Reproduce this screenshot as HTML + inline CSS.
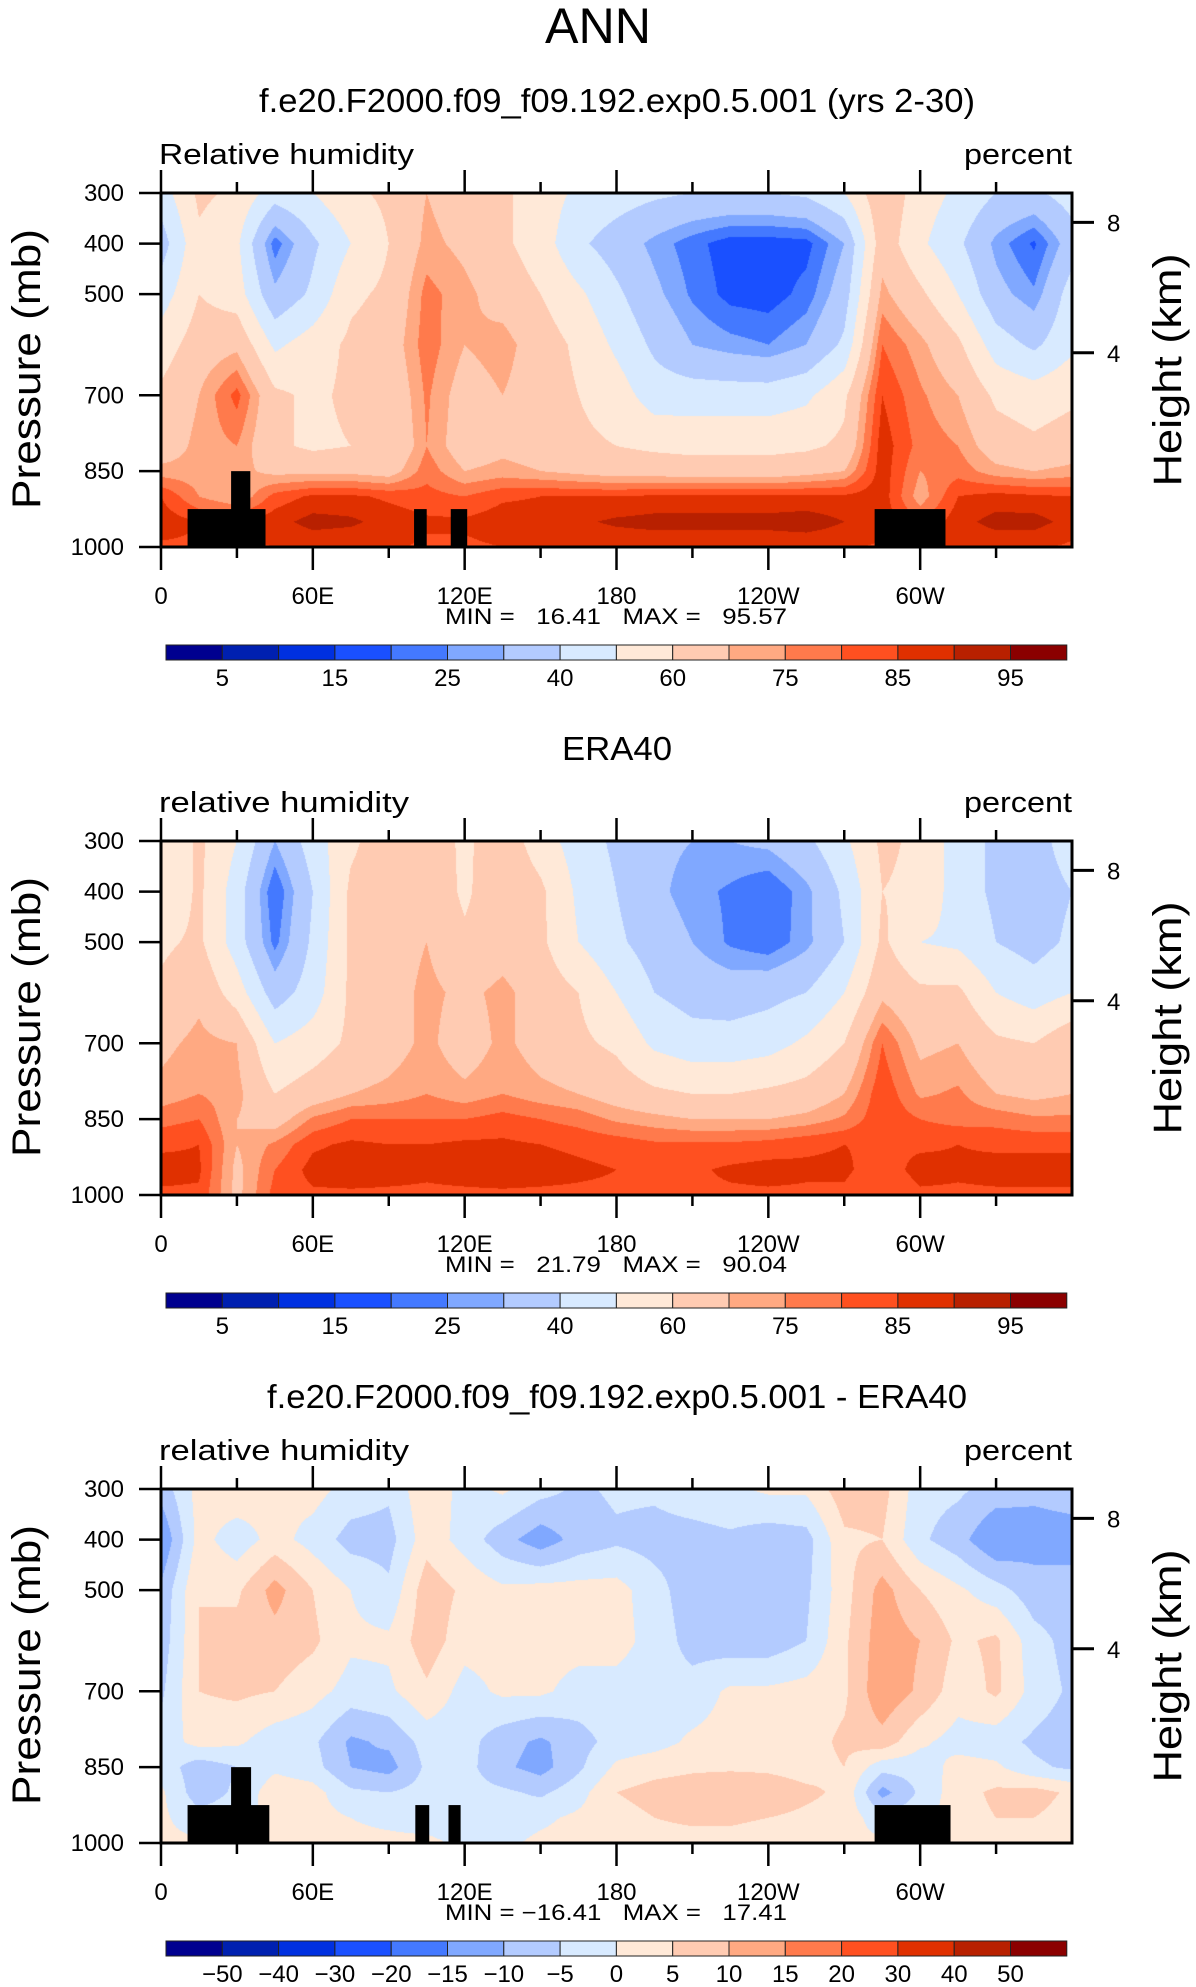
<!DOCTYPE html>
<html><head><meta charset="utf-8">
<style>
html,body{margin:0;padding:0;background:#fff;}
#wrap{position:relative;width:1196px;height:1987px;overflow:hidden;}
canvas{position:absolute;}
svg{position:absolute;left:0;top:0;}
text{font-family:"Liberation Sans",sans-serif;fill:#000;}
</style></head>
<body>
<div id="wrap">
<canvas id="c0"></canvas>
<canvas id="c1"></canvas>
<canvas id="c2"></canvas>
<svg id="ov" width="1196" height="1987"></svg>
</div>
<script>
// ---- data ----
const lons = [0,15,30,45,60,75,90,105,120,135,150,165,180,195,210,225,240,255,270,285,300,315,330,345,360];
const plevs = [300,400,500,600,700,800,850,900,950,1000];
const modelRH = [
[45,62,58,45,50,58,62,70,65,62,55,48,45,42,40,40,40,42,50,68,55,48,40,38,45],
[35,58,52,22,38,50,60,72,68,62,55,42,35,28,22,17,17,18,30,66,52,42,28,19,35],
[45,60,55,32,42,58,62,77,72,66,60,52,42,32,24,18,17,22,35,72,62,50,33,26,45],
[55,65,68,48,55,62,65,78,70,73,65,58,48,38,30,27,25,30,42,80,72,62,45,38,48],
[62,70,82,62,58,62,62,76,66,70,65,60,55,45,45,45,45,48,58,85,76,70,58,55,58],
[65,72,75,62,58,60,60,75,65,68,66,62,60,58,57,57,57,58,62,88,78,75,65,62,65],
[72,72,72,68,68,68,66,78,70,72,70,68,66,66,65,65,65,67,70,88,75,78,72,70,72],
[85,75,70,82,86,86,84,82,80,84,85,85,85,86,86,86,86,86,86,88,72,85,87,86,85],
[88,85,85,88,92,91,88,86,86,88,88,89,91,92,92,92,92,93,90,88,80,88,92,92,88],
[84,84,84,85,86,86,86,84,84,85,85,86,86,86,86,86,86,86,86,84,84,86,86,86,84]];
const eraRH = [
[50,62,50,30,45,58,66,66,58,66,55,45,38,32,30,30,32,38,48,62,58,45,38,36,45],
[50,62,45,20,40,62,66,68,58,68,62,48,40,32,27,24,20,28,42,60,58,45,38,35,40],
[58,62,45,23,42,62,66,70,62,66,62,50,42,35,30,24,21,28,40,62,50,48,40,36,42],
[62,68,55,35,45,62,66,72,68,72,66,60,50,40,36,35,37,40,50,68,62,62,50,45,50],
[68,72,70,50,55,62,66,72,65,72,66,62,58,48,44,44,46,52,60,80,68,70,62,60,68],
[72,75,72,60,65,70,72,75,72,75,72,70,66,62,60,60,62,64,70,84,74,76,70,68,70],
[78,80,70,66,76,80,80,80,80,82,80,78,74,72,70,70,70,72,76,84,80,78,78,76,76],
[84,85,70,76,84,86,85,85,86,86,85,84,83,81,81,81,82,84,85,84,84,85,84,84,84],
[87,86,68,80,87,88,87,86,87,88,87,86,85,84,84,86,87,86,86,82,87,86,87,87,87],
[84,84,68,82,84,84,84,84,84,84,84,84,84,84,84,84,84,84,84,80,84,84,84,84,84]];
const diffRH = [
[-8,2,4,1,2,-2,-4,4,-2,1,-3,-6,-4,-4,-2,-1,1,1,8,7,-3,-4,-7,-9,-8],
[-15,2,-3,2,-2,-7,-7,3,-2,-8,-13,-8,-6,-7,-7,-6,-8,-7,4,5,-4,-8,-15,-12,-12],
[-9,5,4,12,5,0,-4,8,4,1,2,2,2,-3,-8,-8,-8,-6,3,12,5,1,-3,-8,-8],
[-8,5,7,8,6,1,1,8,2,2,2,2,2,-2,-7,-8,-8,-5,4,13,10,4,6,-3,-7],
[-6,5,6,5,2,-2,-1,4,-2,1,1,-2,-2,-3,-3,1,1,2,4,14,9,2,6,-2,-6],
[-3,2,1,-3,-4,-11,-9,-3,-3,-8,-11,-7,-3,-2,1,2,2,3,6,8,1,-2,-3,-6,-8],
[-2,-8,-5,-1,-3,-10,-12,-4,-3,-9,-12,-6,1,3,4,4,4,3,5,-3,-3,2,1,-4,-6],
[1,-8,-4,3,2,-4,-5,-3,-3,-4,-6,-2,5,7,8,10,8,6,4,-12,-4,3,6,7,4],
[1,-3,-2,2,2,0,-1,-2,-2,-2,-1,1,3,5,6,6,5,4,3,-3,-2,3,5,5,3],
[1,1,2,2,2,1,1,1,-1,-1,1,2,3,3,3,3,2,1,1,1,1,2,3,2,2]];
const rhLevels = [5,10,15,20,25,30,40,50,60,70,75,80,85,90,95];
const diffLevels = [-50,-40,-30,-20,-15,-10,-5,0,5,10,15,20,30,40,50];
const rhTickLabels = ['5','15','25','40','60','75','85','95'];
const diffTickLabels = ['\u221250','\u221240','\u221230','\u221220','\u221215','\u221210','\u22125','0','5','10','15','20','30','40','50'];
const lonTicks = [0,60,120,180,240,300];
const lonTickLabels = ['0','60E','120E','180','120W','60W'];
const pTicks = [300,400,500,700,850,1000];
const landModel = [[10.5,41.3,925],[27.7,35.3,850],[100,105,925],[114.5,121,925],[282,310,925]];
const landDiff = [[10.5,42.8,925],[27.7,35.6,850],[100.5,106,925],[113.6,118.4,925],[282,312,925]];
const colors = ['#00008f','#0020b0','#0030e0','#1a50ff','#4479ff','#80a8ff','#b3cbff','#d8eaff','#ffe9d8','#ffcbb2','#ffa982','#ff7a4c','#ff5020','#e03000','#b82000','#8b0000'];

// ---- layout ----
const L=161, R=1072, PW=R-L, PH=354, tops=[193,841,1489];
const NS='http://www.w3.org/2000/svg';
const ov=document.getElementById('ov');
function el(tag,attrs,txt,name){const e=document.createElementNS(NS,tag);for(const k in attrs)e.setAttribute(k,attrs[k]);if(txt!==undefined)e.textContent=txt;


ov.appendChild(e);return e;}
const xS=lon=>L+lon/360*PW;
const yS=(p,t)=>t+(p-300)/700*PH;
function hexToRgb(h){return [parseInt(h.substr(1,2),16),parseInt(h.substr(3,2),16),parseInt(h.substr(5,2),16)];}
const rgb=colors.map(hexToRgb);
function interp(grid,lon,p){
  let i=Math.min(lons.length-2,Math.floor(lon/15));let fx=(lon-lons[i])/15;
  let j=0;while(j<plevs.length-2&&p>plevs[j+1])j++;
  let fy=(p-plevs[j])/(plevs[j+1]-plevs[j]);
  const a=grid[j][i],b=grid[j][i+1],c=grid[j+1][i],d=grid[j+1][i+1];
  return (a*(1-fx)+b*fx)*(1-fy)+(c*(1-fx)+d*fx)*fy;
}
function drawField(id,grid,levels,top){
  const cv=document.getElementById(id);cv.width=PW;cv.height=PH;cv.style.left=L+'px';cv.style.top=top+'px';
  const ctx=cv.getContext('2d');const img=ctx.createImageData(PW,PH);
  for(let y=0;y<PH;y++){const p=300+(y+0.5)/PH*700;
    for(let x=0;x<PW;x++){const lon=(x+0.5)/PW*360;const v=interp(grid,lon,p);
      let k=0;while(k<levels.length&&v>=levels[k])k++;
      const c=rgb[k];const o=(y*PW+x)*4;img.data[o]=c[0];img.data[o+1]=c[1];img.data[o+2]=c[2];img.data[o+3]=255;}}
  ctx.putImageData(img,0,0);
}
const panels=[
 {grid:modelRH,levels:rhLevels,labels:rhTickLabels,title:'f.e20.F2000.f09_f09.192.exp0.5.001 (yrs 2-30)',tw:716,left:'Relative humidity',lw:255,minmax:'MIN =   16.41   MAX =   95.57',land:landModel,name:'model'},
 {grid:eraRH,levels:rhLevels,labels:rhTickLabels,title:'ERA40',tw:110,left:'relative humidity',lw:250,minmax:'MIN =   21.79   MAX =   90.04',land:null,name:'era40'},
 {grid:diffRH,levels:diffLevels,labels:diffTickLabels,title:'f.e20.F2000.f09_f09.192.exp0.5.001 - ERA40',tw:700,left:'relative humidity',lw:250,minmax:'MIN = \u221216.41   MAX =   17.41',land:landDiff,name:'difference'}];

el('text',{x:598,y:43,'font-size':50,'text-anchor':'middle',textLength:106,lengthAdjust:'spacingAndGlyphs'},'ANN','main-title');

panels.forEach((P,n)=>{
  const t=tops[n], off=n*648;
  drawField('c'+n,P.grid,P.levels,t);
  if(P.land){P.land.forEach(b=>{el('rect',{x:xS(b[0]),y:yS(b[2],t),width:xS(b[1])-xS(b[0]),height:yS(1000,t)-yS(b[2],t),fill:'#000'},undefined,'land-mask');});}
  el('text',{x:617,y:112+off,'font-size':33,'text-anchor':'middle',textLength:P.tw,lengthAdjust:'spacingAndGlyphs'},P.title,P.name+'-panel-title');
  el('text',{x:159,y:164+off,'font-size':29,textLength:P.lw,lengthAdjust:'spacingAndGlyphs'},P.left,P.name+'-variable-label');
  el('text',{x:1072,y:164+off,'font-size':29,'text-anchor':'end',textLength:108,lengthAdjust:'spacingAndGlyphs'},'percent',P.name+'-units-label');
  el('rect',{x:L,y:t,width:PW,height:PH,fill:'none',stroke:'#000','stroke-width':3},undefined,P.name+'-plot-frame');
  for(let lon=0;lon<=330;lon+=30){const major=lon%60===0;const x=xS(lon);
    el('line',{x1:x,x2:x,y1:t,y2:t-(major?23:11),stroke:'#000','stroke-width':2.5},undefined,'top-tick');
    el('line',{x1:x,x2:x,y1:t+PH,y2:t+PH+(major?23:11),stroke:'#000','stroke-width':2.5},undefined,'bottom-tick');}
  lonTicks.forEach((lon,i)=>{el('text',{x:xS(lon),y:t+411,'font-size':24,'text-anchor':'middle'},lonTickLabels[i],'x-tick-label');});
  pTicks.forEach(p=>{const y=yS(p,t);el('line',{x1:L-22,x2:L,y1:y,y2:y,stroke:'#000','stroke-width':2.5},undefined,'y-tick');
    el('text',{x:124,y:y+8,'font-size':24,'text-anchor':'end'},String(p),'y-tick-label');});
  [[8,358],[4,616]].forEach(h=>{const y=yS(h[1],t);el('line',{x1:R,x2:R+22,y1:y,y2:y,stroke:'#000','stroke-width':3},undefined,'height-tick');
    el('text',{x:1107,y:y+9,'font-size':24},String(h[0]),'height-tick-label');});
  el('text',{x:0,y:0,'font-size':40,'text-anchor':'middle',transform:`translate(40,${369+off}) rotate(-90)`,textLength:280,lengthAdjust:'spacingAndGlyphs'},'Pressure (mb)','y-axis-title');
  el('text',{x:0,y:0,'font-size':40,'text-anchor':'middle',transform:`translate(1181,${370+off}) rotate(-90)`,textLength:233,lengthAdjust:'spacingAndGlyphs'},'Height (km)','right-axis-title');
  el('text',{x:616,y:624+off,'font-size':22,'text-anchor':'middle',style:'white-space:pre',textLength:342,lengthAdjust:'spacingAndGlyphs'},P.minmax,P.name+'-min-max');
  const cbL=166,cbW=56.3,cbT=645+off,cbH=15;
  P.levels.concat([null]).forEach((lv,i)=>{el('rect',{x:cbL+i*cbW,y:cbT,width:cbW,height:cbH,fill:colors[i],stroke:'#222','stroke-width':1},undefined,P.name+'-colorbar-box');});
  const step=P.labels.length===8?2:1;
  P.labels.forEach((lab,i)=>{const bi=i*step+1;el('text',{x:cbL+bi*cbW,y:686+off,'font-size':24,'text-anchor':'middle'},lab,P.name+'-colorbar-label');});
});
</script>
</body></html>
